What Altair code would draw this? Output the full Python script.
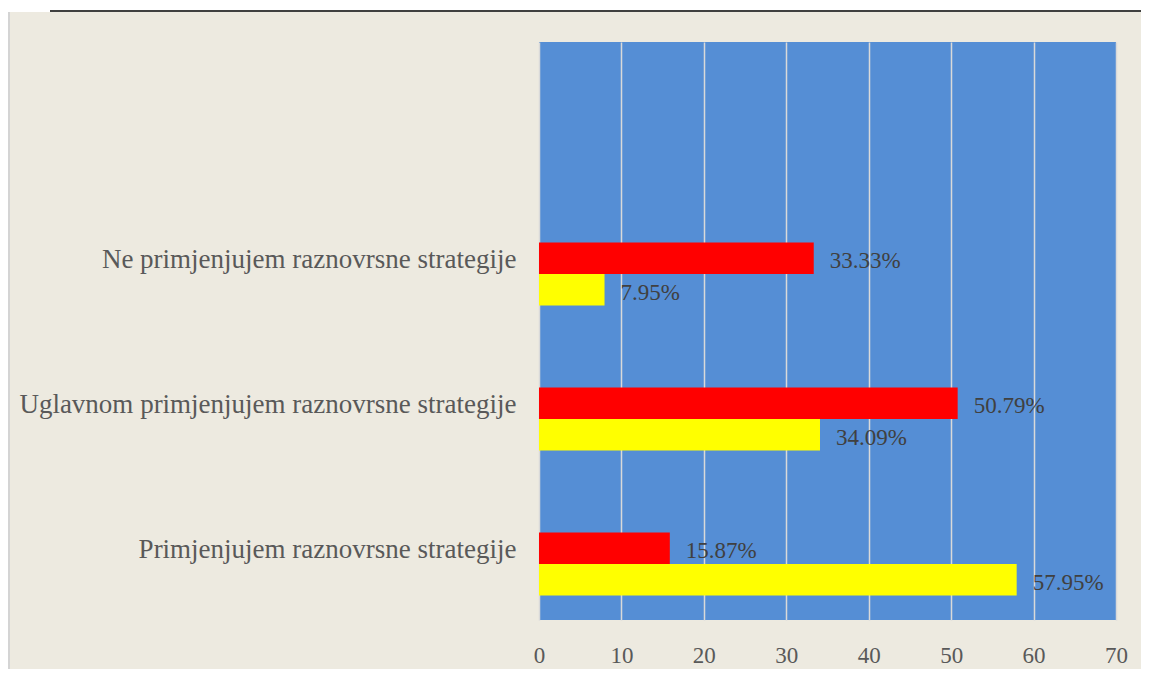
import altair as alt
import pandas as pd

categories = [
    "Ne primjenjujem raznovrsne strategije",
    "Uglavnom primjenjujem raznovrsne strategije",
    "Primjenjujem raznovrsne strategije",
]
series_names = ["Serija 1", "Serija 2"]
red_values = [33.33, 50.79, 15.87]
yellow_values = [7.95, 34.09, 57.95]
x_ticks = [0, 10, 20, 30, 40, 50, 60, 70]

rows = []
for c, r, yv in zip(categories, red_values, yellow_values):
    rows.append({"kategorija": c, "serija": series_names[0], "vrijednost": r, "oznaka": f"{r:.2f}%"})
    rows.append({"kategorija": c, "serija": series_names[1], "vrijednost": yv, "oznaka": f"{yv:.2f}%"})
df = pd.DataFrame(rows)

FONT = "Liberation Serif"

y_enc = alt.Y(
    "kategorija:N",
    sort=categories,
    scale=alt.Scale(domain=categories, paddingInner=0.5655, paddingOuter=0.776, align=0.891),
    axis=alt.Axis(
        title=None, domain=False, ticks=False, labelFontSize=27, labelColor="#595959",
        labelFont=FONT, labelPadding=23, labelLimit=700, labelOffset=-14,
    ),
)
x_enc = alt.X(
    "vrijednost:Q",
    scale=alt.Scale(domain=[0, 70], nice=False),
    axis=alt.Axis(
        title=None, values=x_ticks, domain=False, ticks=False, grid=True,
        gridColor="#D9D9D9", gridWidth=1.5, labelFontSize=23, labelColor="#595959",
        labelFont=FONT, labelPadding=24, labelFlush=False,
    ),
)
yoff = alt.YOffset(
    "serija:N",
    scale=alt.Scale(domain=series_names, paddingInner=0, paddingOuter=0),
)

bars = alt.Chart(df).mark_bar().encode(
    x=x_enc,
    y=y_enc,
    yOffset=yoff,
    color=alt.Color(
        "serija:N",
        scale=alt.Scale(domain=series_names, range=["#FF0000", "#FFFF00"]),
        legend=None,
    ),
)

labels = alt.Chart(df).mark_text(
    align="left", baseline="middle", dx=16, dy=3, font=FONT, fontSize=23, color="#404040"
).encode(
    x=alt.X("vrijednost:Q"),
    y=alt.Y("kategorija:N", sort=categories),
    yOffset=yoff,
    text="oznaka:N",
)

deco = pd.DataFrame({"d": [0]})
white_top = alt.Chart(deco).mark_rect(color="white").encode(
    x=alt.value(-531), x2=alt.value(602), y=alt.value(-34), y2=alt.value(-30)
)
top_line = alt.Chart(deco).mark_rule(color="black", strokeWidth=1.5).encode(
    x=alt.value(-489), x2=alt.value(602), y=alt.value(-31)
)
left_border = alt.Chart(deco).mark_rule(color="#D4D4D4", strokeWidth=2).encode(
    x=alt.value(-530), y=alt.value(-30), y2=alt.value(627)
)

chart = alt.layer(white_top, top_line, left_border, bars, labels).properties(
    width=577,
    height=578,
    background="#EDEAE0",
    padding={"left": 531, "top": 34, "right": 25, "bottom": 49},
    autosize=alt.AutoSizeParams(type="none"),
).configure_view(
    fill="#558ED5", stroke=None
)

chart.save("out.html", embed_options={"renderer": "svg", "actions": False})
